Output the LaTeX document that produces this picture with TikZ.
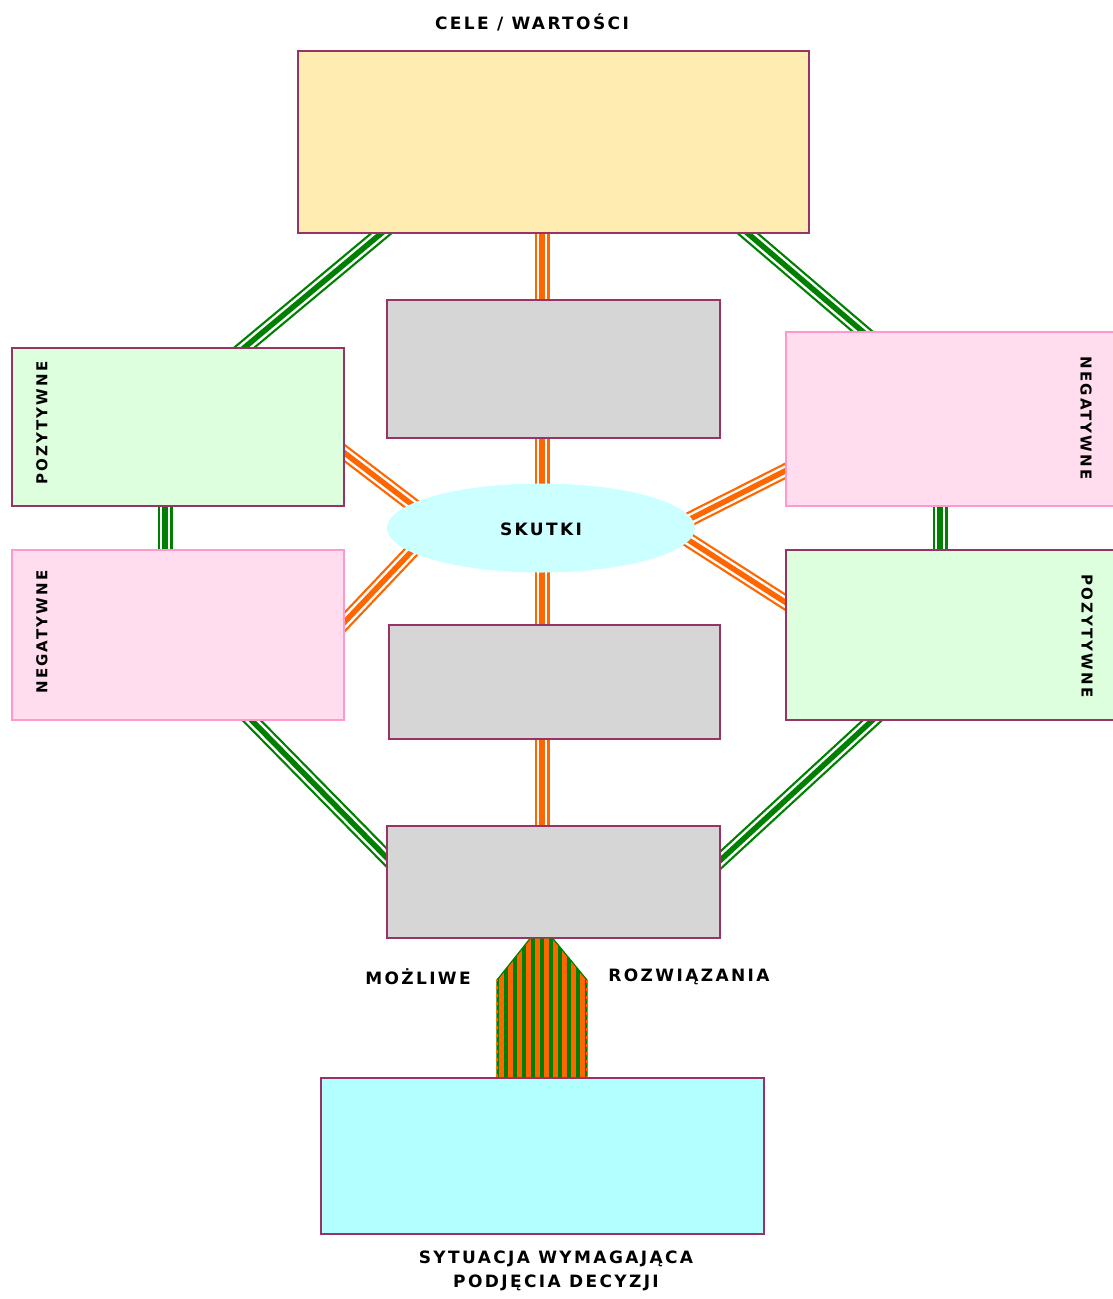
\documentclass[tikz,border=0pt]{standalone}
\usepackage{fontspec}
\newfontfamily\lblfont{DejaVu Sans}[LetterSpace=14]
\newfontfamily\sidefont{DejaVu Sans}[LetterSpace=14]
\usetikzlibrary{calc,backgrounds,shapes.geometric}
\definecolor{dgreen}{HTML}{008000}
\definecolor{orng}{HTML}{FF6600}
\definecolor{frame}{HTML}{993366}
\definecolor{pinkframe}{HTML}{FF99CC}
\definecolor{yel}{HTML}{FFECB0}
\definecolor{lgreen}{HTML}{DEFFDE}
\definecolor{lpink}{HTML}{FFDDEE}
\definecolor{gry}{HTML}{D6D6D6}
\definecolor{ecyan}{HTML}{CCFFFF}
\definecolor{bcyan}{HTML}{B3FFFF}
\tikzset{
  box/.style={draw=frame, line width=1.6pt, inner sep=0pt, anchor=north west},
  pinkbox/.style={box, draw=pinkframe, fill=lpink},
  greenbox/.style={box, fill=lgreen},
  graybox/.style={box, fill=gry},
  greenrail/.style={preaction={draw=dgreen, line width=15pt},
                    preaction={draw=white, line width=10.5pt},
                    draw=dgreen, line width=5.5pt},
  orangerail/.style={preaction={draw=orng, line width=15pt},
                     preaction={draw=white, line width=10.5pt},
                     draw=orng, line width=5.5pt},
  lbl/.style={font=\lblfont\bfseries\fontsize{17}{24}\selectfont, inner sep=0pt},
  sidelbl/.style={font=\sidefont\bfseries\fontsize{15}{16}\selectfont, inner sep=0pt}
}
\begin{document}
\begin{tikzpicture}[x=1pt,y=-1pt]
\useasboundingbox (0,0) rectangle (1113,1299);
% boxes
\node[box, fill=yel, minimum width=511pt, minimum height=182pt] (top) at (297,50) {};
\node[graybox, minimum width=333pt, minimum height=138pt] (g1) at (386,299) {};
\node[greenbox, minimum width=332pt, minimum height=158pt] (lg) at (11,347) {};
\node[pinkbox, minimum width=332pt, minimum height=170pt] (lp) at (11,549) {};
\node[pinkbox, minimum width=331pt, minimum height=174pt] (rp) at (785,331) {};
\node[greenbox, minimum width=331pt, minimum height=170pt] (rg) at (785,549) {};
\node[ellipse, fill=ecyan, minimum width=308pt, minimum height=89pt, inner sep=0pt] (ell) at (541,528) {};
\node[lbl] (skutki) at (541,529) {SKUTKI};
\node[graybox, minimum width=331pt, minimum height=114pt] (g2) at (388,624) {};
\node[graybox, minimum width=333pt, minimum height=112pt] (g3) at (386,825) {};
\node[box, fill=bcyan, minimum width=443pt, minimum height=156pt] (sit) at (320,1077) {};
\coordinate (axis) at (542,0);
% labels
\node[lbl] (cele) at (532,22) {CELE / WARTOŚCI};
\node[lbl] (mozl) at (418,977) {MOŻLIWE};
\node[lbl] (rozw) at (689,977) {ROZWIĄZANIA};
\node[lbl, align=center] (syt) at (556,1271) {SYTUACJA WYMAGAJĄCA\\PODJĘCIA DECYZJI};
\node[sidelbl, rotate=90] (lgt) at ($(lg.north west)+(31,76)$) {POZYTYWNE};
\node[sidelbl, rotate=90] (lpt) at ($(lp.north west)+(31,83)$) {NEGATYWNE};
\node[sidelbl, rotate=-90] (rpt) at ($(rp.north west)+(301,87)$) {NEGATYWNE};
\node[sidelbl, rotate=-90] (rgt) at ($(rg.north west)+(302,87)$) {POZYTYWNE};
% connectors
\begin{scope}[on background layer]
  \coordinate (a1) at ($(top.south west)+(84,0)$);
  \coordinate (b1) at ($(lg.north west)+(234,0)$);
  \draw[greenrail] ($(a1)!-12pt!(b1)$) -- ($(b1)!-12pt!(a1)$);
  \coordinate (a2) at ($(top.south west)+(451,0)$);
  \coordinate (b2) at ($(rp.north west)+(77,0)$);
  \draw[greenrail] ($(a2)!-12pt!(b2)$) -- ($(b2)!-12pt!(a2)$);
  \draw[greenrail] ($(lg.south west)+(154,0)$) -- ($(lp.north west)+(154,0)$);
  \draw[greenrail] ($(rp.south west)+(155,0)$) -- ($(rg.north west)+(155,0)$);
  \coordinate (a5) at ($(lp.south west)+(241,0)$);
  \coordinate (b5) at ($(g3.north west)+(0,32)$);
  \draw[greenrail] ($(a5)!-12pt!(b5)$) -- ($(b5)!-12pt!(a5)$);
  \coordinate (a6) at ($(rg.south west)+(87,0)$);
  \coordinate (b6) at ($(g3.north east)+(0,35)$);
  \draw[greenrail] ($(a6)!-12pt!(b6)$) -- ($(b6)!-12pt!(a6)$);
  \draw[orangerail] (top.south -| axis) -- (g1.north -| axis);
  \draw[orangerail] (g1.south -| axis) -- (ell.center -| axis);
  \draw[orangerail] (ell.center -| axis) -- (g2.north -| axis);
  \draw[orangerail] (g2.south -| axis) -- (g3.north -| axis);
  \coordinate (c1) at ($(lg.north east)+(0,106)$);
  \coordinate (d1) at ($(ell.center)+(-131,-25)$);
  \draw[orangerail] ($(c1)!-12pt!(d1)$) -- ($(d1)!-12pt!(c1)$);
  \coordinate (c2) at ($(lp.north east)+(0,73)$);
  \coordinate (d2) at ($(ell.center)+(-131,25)$);
  \draw[orangerail] ($(c2)!-12pt!(d2)$) -- ($(d2)!-12pt!(c2)$);
  \coordinate (c3) at ($(rp.north west)+(0,140)$);
  \coordinate (d3) at ($(ell.center)+(153,-11)$);
  \draw[orangerail] ($(c3)!-12pt!(d3)$) -- ($(d3)!-12pt!(c3)$);
  \coordinate (c4) at ($(rg.north west)+(0,53)$);
  \coordinate (d4) at ($(ell.center)+(149,13)$);
  \draw[orangerail] ($(c4)!-12pt!(d4)$) -- ($(d4)!-12pt!(c4)$);
\end{scope}
% striped trunk between g3 and sit
\coordinate (t1) at (g3.south -| 530,0);
\coordinate (t2) at (g3.south -| 553,0);
\coordinate (t3) at (587,980);
\coordinate (t4) at (sit.north -| 587,0);
\coordinate (t5) at (sit.north -| 497,0);
\coordinate (t6) at (497,980);
\begin{scope}
  \clip (t1) -- (t2) -- (t3) -- (t4) -- (t5) -- (t6) -- cycle;
  \fill[dgreen] (490,930) rectangle (595,1080);
  \foreach \sx in {0,...,10} {
    \fill[orng] ({499+\sx*9},930) rectangle ({503.5+\sx*9},1080);
  }
\end{scope}
\draw[dgreen, line width=1.2pt] (t2) -- (t3) -- (t4) (t5) -- (t6) -- (t1);
\draw[orng, line width=1.2pt, dash pattern=on 3pt off 5pt] (t3) -- (t4) (t5) -- (t6);
\end{tikzpicture}
\end{document}
